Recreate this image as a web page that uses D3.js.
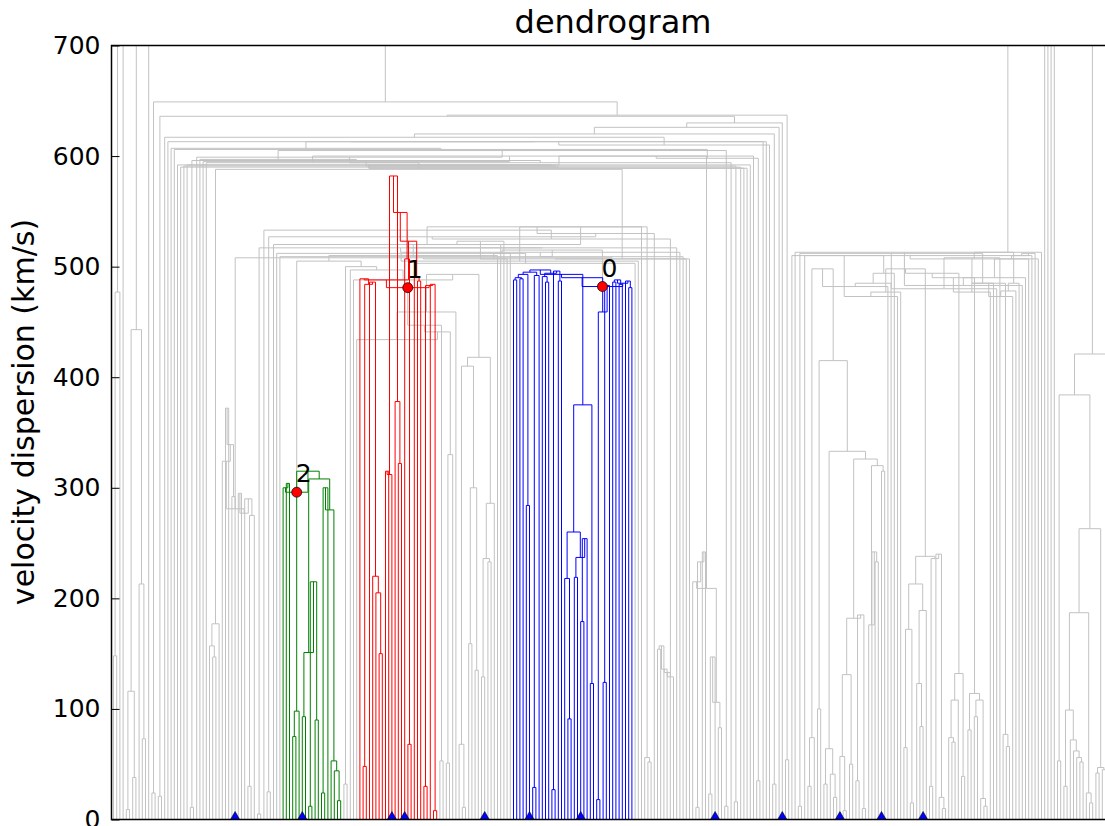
<!DOCTYPE html>
<html>
<head>
<meta charset="UTF-8">
<title>dendrogram</title>
<script src="https://cdnjs.cloudflare.com/ajax/libs/d3/7.8.5/d3.min.js"></script>
<style>
  body { margin: 0; background: #ffffff; }
  svg { display: block; font-family: 'DejaVu Sans', sans-serif; }
  .axis path { display: none; }
  .axis line { stroke: #000; }
</style>
</head>
<body>
<script>
// every node is [height, left, right] (km/s), a leaf is 0
const yTicks = [0, 100, 200, 300, 400, 500, 600, 700];

// far left pieces, they join above the top of the plot
const farLeftA = [477, [148, 0, 0], 0];
const farLeftB = [443, [116, [9, 0, 0], [38, 0, 0]], [213, 0, [73, 0, 0]]];

// small grey groups left of the green one
const sub1 = [177, [157, 0, [147, 0, 0]], 0];
const sub2 = [281, [324, 0, [339, [372, 0, 0], [292, 0, 0]]], [277, [295, 0, 0], [290, 0, [275, [30, 0, 0], 0]]]];

// structure 2
const greenTree = [296,
  [300, 0, [304, 0, 0]],
  [315,
    [98, [75, 0, 0], 0],
    [308,
      [151, [93, 0, 0], [215, [12, 0, 0], [90, 0, 0]]],
      [280, [300, [24, 0, 0], 0], [53, 0, [44, 0, [17, 0, 0]]]]]]];

// structure 1
const redLow = [484, [48, 0, 0], [486, 0, [220, 0, [205, 0, [150, 0, 0]]]]];
const redTower = [523, [549, [582, [312, [315, 0, 0], 0], [378, 0, [322, 0, 0]]], [507, 0, [68, 0, 0]]], [490, 0, [487, 0, 0]]];
const redSide = [483, [30, 0, 0], [484, 0, [8, 0, 0]]];
const redTree = [481, [488, [489, 0, redLow], redTower], redSide];

// structure 0
const blueLeft = [497, [495, [493, [490, [488, 0, 0], [489, 0, 0]], [284, 0, 0]], [492, [29, 0, 0], 0]],
  [494, [491, 0, [486, 0, 0]], [496, [27, 0, 0], [487, 0, 0]]]];
const blueMid = [375, [260, [218, 0, [91, 0, 0]], [237, [219, 0, 0], [254, [179, 0, 0], 0]]], [123, 0, 0]];
const blueRightA = [459, [18, 0, 0], [483, [124, 0, 0], 0]];
const blueRightB = [485, [488, [486, 0, 0], [484, 0, 0]], [487, 0, [481, 0, 0]]];
const blueTree = [482, [490, [493, blueLeft, blueMid], blueRightA], blueRightB];

// grey groups in the middle
const midGray = [418, [410, [68, 0, [11, 0, 0]], [300, [159, 0, 0], [135, 0, 0]]], [286, [236, [129, 0, 0], [233, 0, 0]], 0]];
const redGroup = [459, [434, 0, [441, [447, redTree, [53, 0, 0]], [330, [51, 0, 0], 0]]], 0];
const centre = [493, redGroup, midGray];
const cascade = [129, [133, [136, [157, [154, 0, 0], 0], 0], 0], 0];
const rightGray = [209, [215, 0, [233, [11, 0, 0], [242, 0, 0]]], [106, [147, [23, 0, 0], 0], [83, 0, 0]]];

// join height, side, piece; innermost first
const coreSteps = [
  [488, 'L', 0], [497, 'L', 0], [500, 'L', [32, 0, 0]], [505, 'L', greenTree],
  [510, 'R', 0], [520, 'R', 0], [523, 'R', 0], [507, 'R', 0], [512, 'R', 0], [515, 'R', blueTree],
  [509, 'L', 0], [503, 'R', 0], [512, 'L', 0], [505, 'R', 0], [536, 'R', 0], [520, 'L', 0],
  [536, 'R', [56, 0, [52, 0, 0]]], [530, 'R', 0], [527, 'L', [25, 0, 0]], [525, 'R', cascade],
  [533, 'L', 0], [517, 'R', 0], [517, 'L', [5, 0, 0]], [513, 'R', 0], [509, 'R', 0],
  [508, 'L', sub2], [507, 'R', 0], [507, 'R', 0]
];
const outerSteps = [
  [588, 'L', sub1], [594, 'L', 0], [600, 'R', rightGray], [595, 'L', 0], [597, 'L', 0], [605, 'R', [12, 0, 0]],
  [599, 'L', 0], [594, 'R', 0], [596, 'L', [11, 0, 0]], [591, 'R', [16, 0, 0]], [592, 'L', 0], [590, 'R', 0],
  [591, 'L', 0], [589, 'R', 0], [590, 'L', 0], [589, 'R', 0], [592, 'L', 0], [592, 'R', 0], [600, 'R', 0],
  [598, 'R', [35, 0, 0]], [606, 'L', 0], [607, 'L', 0], [613, 'R', 0], [613, 'L', 0], [613, 'R', 0],
  [610, 'R', 0], [617, 'L', 0], [620, 'R', [32, 0, 0]], [626, 'R', 0], [630, 'R', 0],
  [636, 'L', [21, 0, 0]], [637, 'R', [54, 0, 0]], [649, 'L', [24, 0, 0]]
];

// right hand cluster
const knot415 = [415, [100, 0, 0], [333, [64, [32, 0, 0], [41, 0, [20, 0, 0]]],
  [326, [182, [131, [57, 0, [8, 0, 0]], [50, 0, 0]], [185, [35, 0, 0], [10, 0, 0]]],
    [320, [176, 0, [242, 0, [233, 0, 0]]], [315, 0, 0]]]]];
const knot240 = [238, [213, [172, [65, 0, 0], [15, 0, 0]], [189, [123, 0, [84, 0, 0]], 0]],
  [236, [30, 0, 0], [240, 0, [20, 0, [10, 0, 0]]]]];
const knotA = [132, [108, [74, 0, [70, 0, 0]], 0], [39, 0, 0]];
const knotB = [114, [81, 0, 0], [108, [93, 0, 0], [19, 0, [12, 0, 0]]]];
const rightSteps = [
  [498, 'L', [74, [30, 0, 0], 0]], [482, 'R', 0], [485, 'R', 0], [494, 'R', 0], [510, 'L', 0],
  [473, 'R', 0], [477, 'R', 0], [498, 'R', knot240], [494, 'R', knotA], [490, 'R', knotB],
  [477, 'R', 0], [485, 'R', 0], [512, 'L', [12, 0, 0]], [480, 'R', 0], [508, 'R', 0],
  [485, 'R', [77, 0, [66, 0, 0]]], [473, 'R', 0], [478, 'R', 0], [485, 'R', 0], [513, 'L', 0],
  [483, 'R', 0], [490, 'R', 0], [507, 'R', 0], [510, 'R', 0], [512, 'R', 0], [510, 'L', 0],
  [507, 'R', 0], [513, 'R', 0]
];

const farRight = [421, [384, [53, 0, 0], [263, [187, [99, [30, 0, 0], [72, 0, [62, 0, [56, 0, [52, 0, 0]]]]],
  [24, 0, [15, 0, 0]]], [47, [42, 0, 0], [45, 0, 0]]]], [110, 0, 0]];

// labelled structures
const labelled = [
  { tree: blueTree, name: '0', color: '#0000ff' },
  { tree: redTree, name: '1', color: '#ff0000' },
  { tree: greenTree, name: '2', color: '#008000' }
];
// leaves that carry a triangle
const markedLeaves = [38, 59, 87, 91, 116, 130, 146, 188, 209, 227, 240, 253];

function grow(core, steps) {
  return steps.reduce((t, s) => s[1] === 'L' ? [s[0], s[2], t] : [s[0], t, s[2]], core);
}

const big = grow(grow(centre, coreSteps), outerSteps);
const clusterC = grow(knot415, rightSteps);
const tree = [800, farLeftA, 0, farLeftB, 0, big, clusterC, 0, 0, 0, 0, farRight];

const width = 1105, height = 826;
const margin = { left: 111.5, top: 45.5, bottom: 819.5, right: 1114.5 };

const svg = d3.select('body').append('svg')
  .attr('width', width)
  .attr('height', height);

const root = d3.hierarchy(tree, d => Array.isArray(d) ? d.slice(1) : null);
const leaves = root.leaves();

const x = d3.scaleLinear()
  .domain([0, leaves.length - 1])
  .range([113.5, 1111.9]);
const y = d3.scaleLinear()
  .domain([0, 700])
  .range([margin.bottom, margin.top]);

leaves.forEach((d, i) => { d.px = x(i); });
root.eachAfter(d => {
  d.h = d.children ? d.data[0] : 0;
  if (d.children) d.px = (d.children[0].px + d.children[d.children.length - 1].px) / 2;
});
root.each(d => {
  const c = labelled.find(c => c.tree === d.data);
  d.color = c ? c.color : (d.parent ? d.parent.color : null);
});

svg.append('clipPath').attr('id', 'plot')
  .append('rect')
  .attr('x', margin.left).attr('y', margin.top)
  .attr('width', margin.right - margin.left)
  .attr('height', margin.bottom - margin.top);

const g = svg.append('g').attr('clip-path', 'url(#plot)');

function elbow(d) {
  const p = d3.path();
  d.children.forEach(c => { p.moveTo(c.px, y(c.h)); p.lineTo(c.px, y(d.h)); });
  p.moveTo(d.children[0].px, y(d.h));
  p.lineTo(d.children[d.children.length - 1].px, y(d.h));
  return p.toString();
}

const inner = root.descendants().filter(d => d.children);

g.selectAll('path.grey')
  .data(inner.filter(d => !d.color))
  .enter().append('path')
  .attr('class', 'grey')
  .attr('d', elbow)
  .attr('fill', 'none')
  .attr('stroke', '#c2c2c2')
  .attr('stroke-width', 1);

g.selectAll('path.col')
  .data(inner.filter(d => d.color))
  .enter().append('path')
  .attr('class', 'col')
  .attr('d', elbow)
  .attr('fill', 'none')
  .attr('stroke', d => d.color)
  .attr('stroke-width', 1);

// triangles on the baseline
g.selectAll('path.tri')
  .data(markedLeaves)
  .enter().append('path')
  .attr('class', 'tri')
  .attr('d', d3.symbol(d3.symbolTriangle).size(130))
  .attr('transform', d => 'translate(' + leaves[d].px + ',' + (y(0) + 2) + ')')
  .attr('fill', '#0000ff')
  .attr('stroke', '#000')
  .attr('stroke-width', 0.6);

// labelled structures
const tagged = root.descendants().filter(d => labelled.some(c => c.tree === d.data));
g.selectAll('circle.tag')
  .data(tagged)
  .enter().append('circle')
  .attr('class', 'tag')
  .attr('cx', d => d.px)
  .attr('cy', d => y(d.h))
  .attr('r', 5)
  .attr('fill', '#ff0000')
  .attr('stroke', '#000')
  .attr('stroke-width', 0.7);

svg.selectAll('text.tag')
  .data(tagged)
  .enter().append('text')
  .attr('class', 'tag')
  .attr('x', d => d.px - 1)
  .attr('y', d => y(d.h) - 10)
  .attr('font-size', 25)
  .attr('fill', '#000')
  .text(d => labelled.find(c => c.tree === d.data).name);

// axes
svg.append('g')
  .attr('class', 'axis')
  .attr('transform', 'translate(' + margin.left + ',0)')
  .call(d3.axisLeft(y).tickValues(yTicks).tickSizeInner(-8).tickSizeOuter(0).tickPadding(11))
  .selectAll('text')
  .attr('font-size', 25)
  .attr('font-family', 'DejaVu Sans, sans-serif')
  .attr('fill', '#000');

svg.append('rect')
  .attr('x', margin.left).attr('y', margin.top)
  .attr('width', margin.right - margin.left)
  .attr('height', margin.bottom - margin.top)
  .attr('fill', 'none')
  .attr('stroke', '#000')
  .attr('stroke-width', 1.5);

svg.append('text')
  .attr('x', (margin.left + margin.right) / 2)
  .attr('y', 33)
  .attr('text-anchor', 'middle')
  .attr('font-size', 32)
  .text('dendrogram');

svg.append('text')
  .attr('transform', 'translate(34,412) rotate(-90)')
  .attr('text-anchor', 'middle')
  .attr('font-size', 30)
  .text('velocity dispersion (km/s)');
</script>
</body>
</html>
